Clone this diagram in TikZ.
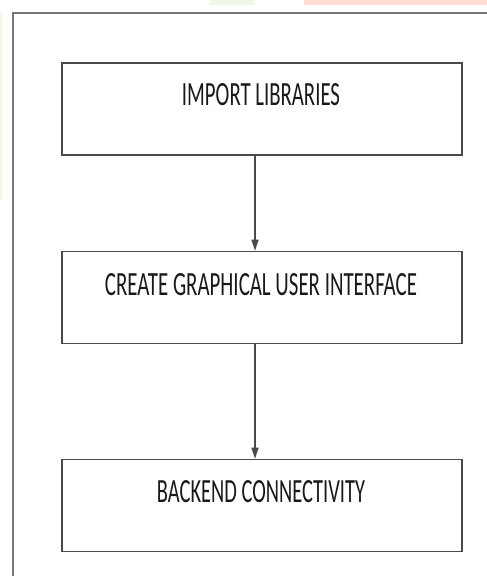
\documentclass[tikz,border=0pt]{standalone}
\usepackage{fontspec}
\setmainfont{Carlito}
\usetikzlibrary{arrows.meta}
\definecolor{framegray}{HTML}{777777}
\definecolor{boxgray}{HTML}{4A4A4A}
\definecolor{pinkstrip}{HTML}{FFDCD3}
\definecolor{greenstrip}{HTML}{EEF8E4}
\tikzset{
  stepbox/.style={draw=boxgray, line width=1.6pt, rectangle, minimum width=400pt, minimum height=92pt, inner sep=0pt, fill=white},
  steptext/.style={inner sep=0pt, text=black!90},
  flow/.style={draw=boxgray, line width=1.3pt, -{Triangle[width=7pt,length=11pt]}},
}
\begin{document}
\begin{tikzpicture}[x=1pt,y=-1pt]
\useasboundingbox (0,0) rectangle (487,576);
\fill[white] (0,0) rectangle (487,576);
\fill[greenstrip] (210,0) rectangle (255,5);
\fill[pinkstrip] (304,0) rectangle (487,5);
\fill[greenstrip] (0,13) rectangle (1.5,200);
\draw[framegray, line width=2.6pt] (13,577) -- (13,13) -- (488,13);
\node[stepbox] (b1) at (262,109) {};
\node[stepbox] (b2) at (262,297.5) {};
\node[stepbox] (b3) at (262,505.5) {};
\node[steptext] (t1) at (261,95) {\resizebox{158pt}{22pt}{IMPORT LIBRARIES}};
\node[steptext] (t2) at (261,285) {\resizebox{312pt}{22pt}{CREATE GRAPHICAL USER INTERFACE}};
\node[steptext] (t3) at (261,492) {\resizebox{208pt}{22pt}{BACKEND CONNECTIVITY}};
\draw[flow] ([xshift=-7pt]b1.south) -- ([xshift=-7pt]b2.north);
\draw[flow] ([xshift=-7pt]b2.south) -- ([xshift=-7pt]b3.north);
\end{tikzpicture}
\end{document}
